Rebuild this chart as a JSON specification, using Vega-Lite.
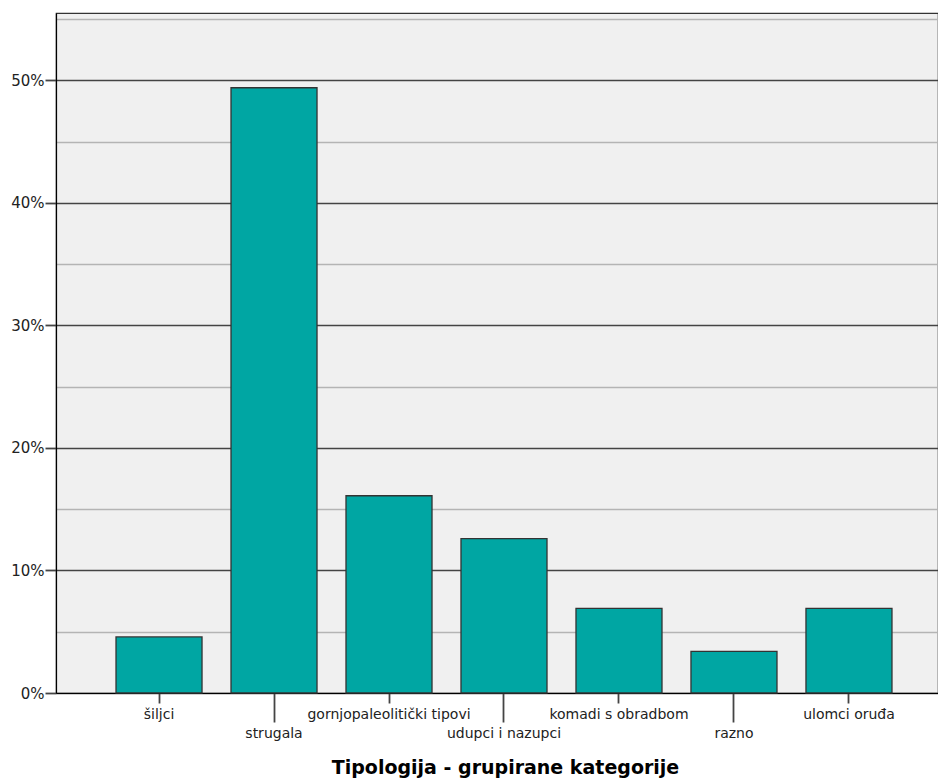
{
  "$schema": "https://vega.github.io/schema/vega-lite/v6.json",
  "width": 882,
  "height": 680,
  "autosize": {"type": "none"},
  "padding": {"left": 56, "top": 13, "right": 0, "bottom": 89},
  "background": "white",
  "config": {
    "view": {"fill": "#f0f0f0", "stroke": "#333", "strokeWidth": 1.2},
    "font": "DejaVu Sans"
  },
  "data": {
    "values": [
      {"kategorija": "šiljci", "postotak": 0.0458},
      {"kategorija": "strugala", "postotak": 0.494},
      {"kategorija": "gornjopaleolitički tipovi", "postotak": 0.161},
      {"kategorija": "udupci i nazupci", "postotak": 0.126},
      {"kategorija": "komadi s obradbom", "postotak": 0.069},
      {"kategorija": "razno", "postotak": 0.034},
      {"kategorija": "ulomci oruđa", "postotak": 0.069}
    ]
  },
  "mark": {"type": "bar", "fill": "#00a6a3", "stroke": "#333", "strokeWidth": 1.3},
  "encoding": {
    "x": {
      "field": "kategorija",
      "type": "nominal",
      "sort": null,
      "scale": {"paddingInner": 0.252, "paddingOuter": 0.461, "align": 0.566},
      "axis": {
        "title": "Tipologija - grupirane kategorije",
        "titleFont": "DejaVu Sans",
        "titleFontSize": 19,
        "titleFontWeight": "bold",
        "titleColor": "#000",
        "titlePadding": 18,
        "titleX": 449,
        "titleAnchor": "middle",
        "labelAngle": 0,
        "labelFont": "DejaVu Sans",
        "labelFontSize": 14,
        "labelColor": "#222",
        "labelBaseline": "top",
        "labelPadding": 4,
        "tickColor": "#444",
        "tickWidth": 1.8,
        "tickSize": {"condition": {"test": "indexof(['strugala','udupci i nazupci','razno'], datum.value) >= 0", "value": 29}, "value": 10},
        "domainColor": "#000",
        "domainWidth": 1.2,
        "grid": false
      }
    },
    "y": {
      "field": "postotak",
      "type": "quantitative",
      "scale": {"domain": [0, 0.555], "nice": false},
      "axis": {
        "title": null,
        "values": [0, 0.05, 0.1, 0.15, 0.2, 0.25, 0.3, 0.35, 0.4, 0.45, 0.5, 0.55],
        "labelExpr": "(datum.value*100) % 10 > 1 ? '' : format(datum.value, '.0%')",
        "labelFont": "DejaVu Sans",
        "labelFontSize": 15,
        "labelColor": "#222",
        "labelPadding": 1,
        "tickSize": 11,
        "tickColor": "#444",
        "tickWidth": 1.8,
        "tickOpacity": {"condition": {"test": "(datum.value*100) % 10 > 1", "value": 0}, "value": 1},
        "domainColor": "#000",
        "domainWidth": 1.2,
        "grid": true,
        "gridColor": {"condition": {"test": "(datum.value*100) % 10 > 1", "value": "#b4b4b4"}, "value": "#444"},
        "gridWidth": 1.3
      }
    }
  }
}
